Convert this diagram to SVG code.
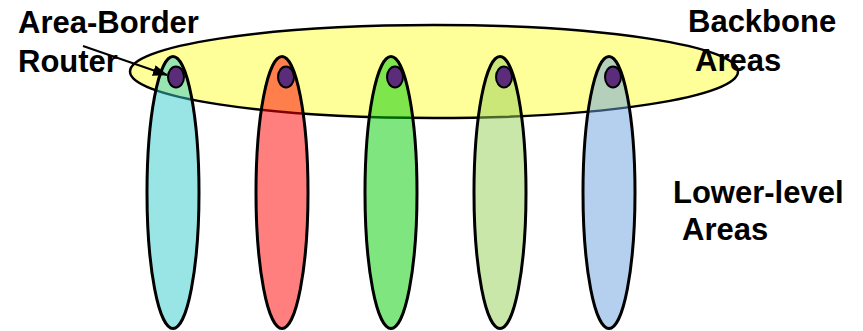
<svg xmlns="http://www.w3.org/2000/svg" width="863" height="331" viewBox="0 0 863 331">
<style>
.area{stroke:#000;stroke-width:3;fill-opacity:0.5}
.router{fill:#5B2C7A;stroke:#000;stroke-width:2}
.lbl{font-family:"Liberation Sans",Arial,sans-serif;font-weight:bold;font-size:31px;fill:#000}
</style>
<defs>
<marker id="ah" markerWidth="15" markerHeight="11" refX="14" refY="5.5" orient="auto" markerUnits="userSpaceOnUse">
<path d="M0,0 L15,5.5 L0,11 Z" fill="#000"/>
</marker>
</defs>
<rect width="863" height="331" fill="#fff"/>
<g id="backbone">
<ellipse cx="434" cy="71.5" rx="304" ry="46.5" fill="#FFFF99" stroke="#000" stroke-width="2.5"/>
</g>
<g id="area1"><ellipse class="area" cx="173" cy="192.5" rx="26" ry="136" fill="#33CCCC"/><ellipse class="router" cx="176" cy="77" rx="8" ry="10.5"/></g>
<g id="area2"><ellipse class="area" cx="282" cy="192.5" rx="26" ry="136" fill="#FF0000"/><ellipse class="router" cx="286" cy="77" rx="8" ry="10.5"/></g>
<g id="area3"><ellipse class="area" cx="391" cy="192.5" rx="26" ry="136" fill="#00CC00"/><ellipse class="router" cx="395" cy="77" rx="8" ry="10.5"/></g>
<g id="area4"><ellipse class="area" cx="500" cy="192.5" rx="26" ry="136" fill="#96CF55"/><ellipse class="router" cx="504" cy="77" rx="8" ry="10.5"/></g>
<g id="area5"><ellipse class="area" cx="609" cy="192.5" rx="26" ry="136" fill="#69A1DD"/><ellipse class="router" cx="613" cy="77" rx="8" ry="10.5"/></g>
<g id="connectors">
<line x1="83" y1="46" x2="167" y2="75" stroke="#000" stroke-width="2" marker-end="url(#ah)"/>
</g>
<g id="labels">
<text class="lbl" x="18" y="33">Area-Border</text>
<text class="lbl" x="18" y="72">Router</text>
<text class="lbl" x="688" y="32">Backbone</text>
<text class="lbl" x="695" y="71">Areas</text>
<text class="lbl" x="673" y="203">Lower-level</text>
<text class="lbl" x="682" y="240">Areas</text>
</g>
</svg>
